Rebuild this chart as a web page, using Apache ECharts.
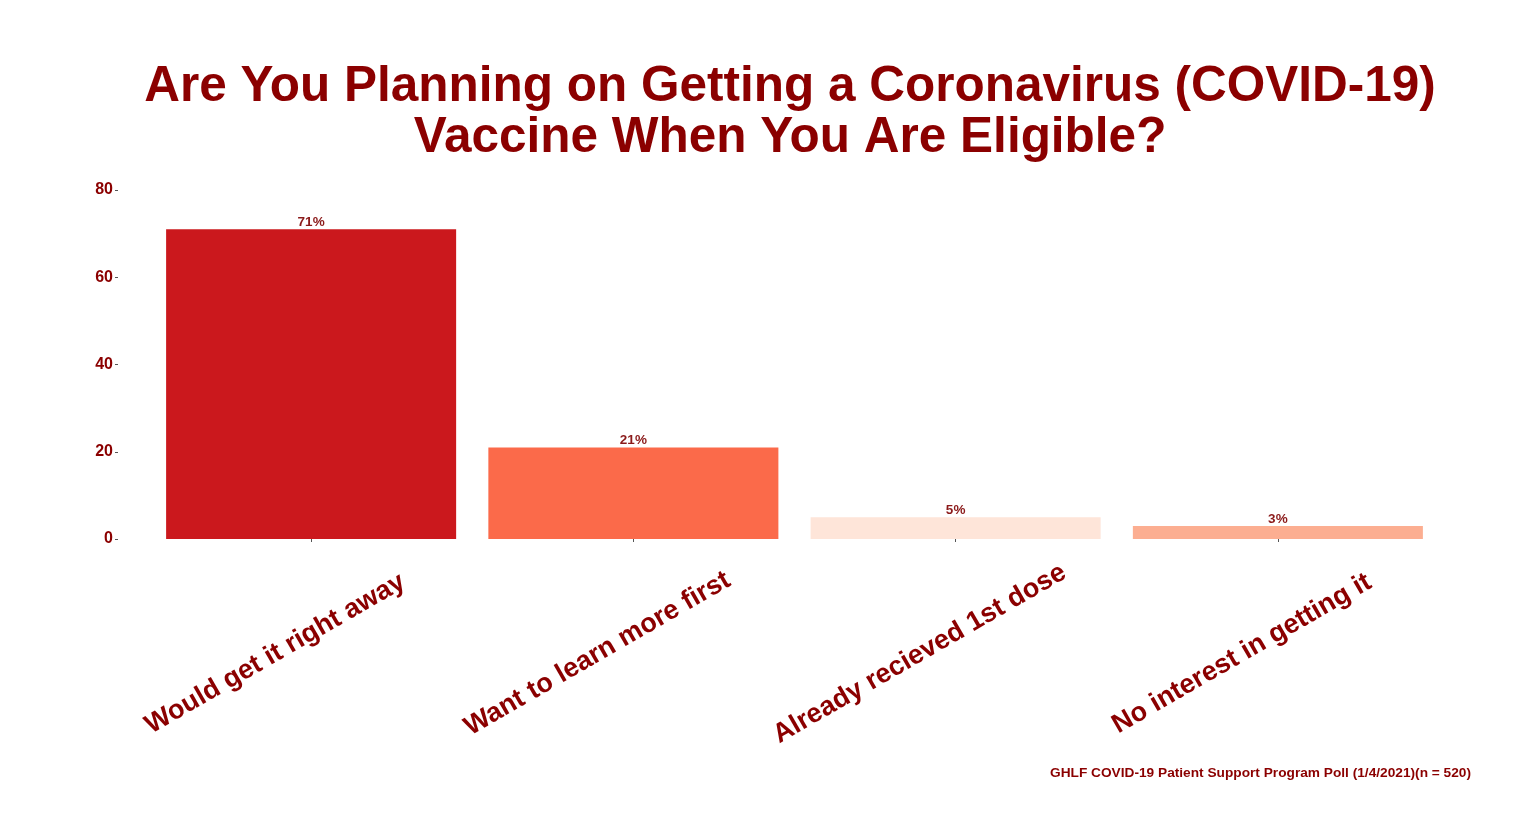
<!DOCTYPE html>
<html>
<head>
<meta charset="utf-8">
<script src="https://cdn.jsdelivr.net/npm/echarts@6/dist/echarts.min.js"></script>
<style>
html,body{margin:0;padding:0;background:#fff;}
#chart{width:1536px;height:830px;}
</style>
</head>
<body>
<div id="chart"></div>
<script>
var categories = ['Would get it right away', 'Want to learn more first', 'Already recieved 1st dose', 'No interest in getting it'];
var values = [71, 21, 5, 3];
var barColors = ['#CB181D', '#FB6A4A', '#FEE5D9', '#FCAE91'];
var yTicks = [0, 20, 40, 60, 80];
var titleText = 'Are You Planning on Getting a Coronavirus (COVID-19)\nVaccine When You Are Eligible?';
var captionText = 'GHLF COVID-19 Patient Support Program Poll (1/4/2021)(n = 520)';

var FONT = '"Liberation Sans", Arial, sans-serif';
var DARK = '#8B0000';

var chart = echarts.init(document.getElementById('chart'));
var option = {
  backgroundColor: '#ffffff',
  animation: false,
  title: [
    {
      text: titleText,
      left: 790,
      top: 62,
      textAlign: 'center',
      padding: 0,
      textStyle: {fontFamily: FONT, fontWeight: 'bold', fontSize: 49.5, lineHeight: 51, color: DARK}
    },
    {
      text: captionText,
      right: 65,
      top: 766,
      padding: 0,
      textStyle: {fontFamily: FONT, fontWeight: 'bold', fontSize: 13.7, color: DARK}
    }
  ],
  grid: {left: 150, right: 97, top: 190, bottom: 291, containLabel: false},
  xAxis: {
    type: 'category',
    data: categories,
    offset: 14,
    axisLine: {show: false},
    axisTick: {show: true, alignWithLabel: true, length: 3, lineStyle: {color: '#555', width: 1}},
    axisLabel: {
      interval: 0,
      rotate: 30,
      align: 'center',
      verticalAlign: 'middle',
      margin: 80,
      padding: [0, 83, 0, 0],
      fontFamily: FONT,
      fontWeight: 'bold',
      fontSize: 27,
      color: DARK
    }
  },
  yAxis: {
    type: 'value',
    min: yTicks[0],
    max: yTicks[yTicks.length - 1],
    interval: yTicks[1] - yTicks[0],
    offset: 32,
    axisLine: {show: false},
    axisTick: {show: true, length: 3, lineStyle: {color: '#555', width: 1}},
    splitLine: {show: false},
    axisLabel: {margin: 5, fontFamily: FONT, fontWeight: 'bold', fontSize: 16, color: DARK}
  },
  series: [{
    type: 'bar',
    barCategoryGap: '10%',
    data: values.map(function (v, i) { return {value: v, itemStyle: {color: barColors[i]}}; }),
    label: {
      show: true,
      position: 'top',
      distance: 0,
      formatter: '{c}%',
      fontFamily: FONT,
      fontWeight: 'bold',
      fontSize: 13.5,
      color: '#8B1A1A'
    }
  }]
};
chart.setOption(option);
</script>
</body>
</html>
